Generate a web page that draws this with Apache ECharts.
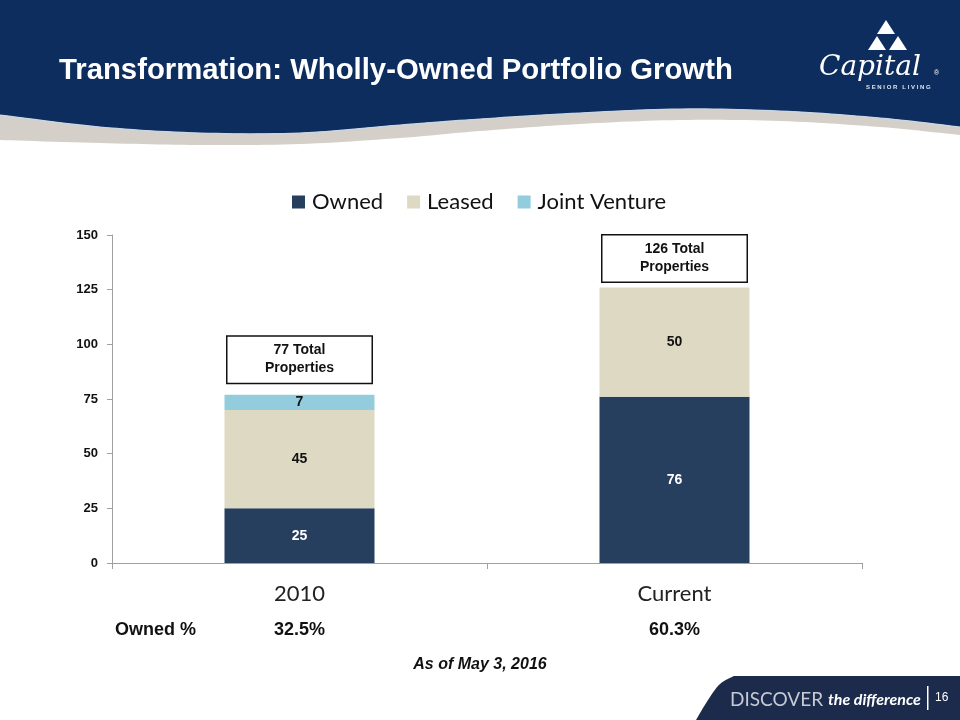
<!DOCTYPE html>
<html><head><meta charset="utf-8">
<script src="https://cdn.jsdelivr.net/npm/echarts@6/dist/echarts.min.js"></script>
<style>html,body{margin:0;padding:0;background:#fff}#c{width:960px;height:720px}</style>
</head><body><div id="c"></div>
<script>
var categories = ['2010', 'Current'];
var owned = [25, 76];
var leased = [45, 50];
var jointVenture = [7, 0];
var yTicks = [0, 25, 50, 75, 100, 125, 150];
var totals = categories.map(function (c, i) { return owned[i] + leased[i] + jointVenture[i]; });
var ownedPct = categories.map(function (c, i) { return (owned[i] / totals[i] * 100).toFixed(1) + '%'; });

// decorative header swoosh outline (not data)
function smoothLine(pts, n) {
  var out = [];
  for (var i = 0; i < pts.length - 1; i++) {
    var p0 = pts[Math.max(i - 1, 0)], p1 = pts[i], p2 = pts[i + 1], p3 = pts[Math.min(i + 2, pts.length - 1)];
    for (var k = 0; k < n; k++) {
      var t = k / n, t2 = t * t, t3 = t2 * t;
      out.push([0, 1].map(function (d) {
        return 0.5 * ((2 * p1[d]) + (-p0[d] + p2[d]) * t + (2 * p0[d] - 5 * p1[d] + 4 * p2[d] - p3[d]) * t2 + (-p0[d] + 3 * p1[d] - 3 * p2[d] + p3[d]) * t3);
      }));
    }
  }
  out.push(pts[pts.length - 1]);
  return out;
}
var navyEdge = smoothLine([[0,115],[100,127],[200,133],[300,133],[400,125],[480,119],[580,113],[680,109],[780,111],[880,118],[960,127]], 12);
var grayEdge = smoothLine([[0,140],[100,143],[200,145],[300,144],[400,138],[480,131],[580,124],[680,120],[780,121],[880,127],[960,135]], 12);
var navyPts = [[0,0],[960,0]].concat(navyEdge.slice().reverse());
var grayPts = navyEdge.concat(grayEdge.slice().reverse());
var footerPts = smoothLine([[696,720],[708,700],[720,684],[734,676]], 8).concat([[960,676],[960,720]]);

var chart = echarts.init(document.getElementById('c'), null, { renderer: 'canvas' });
var segLabel = function (color) {
  return { show: true, position: 'inside', color: color, fontFamily: 'Liberation Sans, Arial', fontWeight: 'bold', fontSize: 14,
    formatter: function (p) { return p.value ? p.value : ''; } };
};
var option = {
  backgroundColor: '#fff',
  animation: false,
  legend: {
    top: 186, left: 287,
    itemWidth: 13, itemHeight: 13, itemGap: 24,
    icon: 'rect',
    textStyle: { fontFamily: 'Lato, Open Sans, sans-serif', fontSize: 22, color: '#111', padding: [0, 0, 0, 2] },
    data: ['Owned', 'Leased', 'Joint Venture']
  },
  grid: { left: 112, right: 98, top: 235, bottom: 157, containLabel: false },
  xAxis: [{
    type: 'category', data: categories,
    axisLine: { lineStyle: { color: '#a0a0a0', width: 1 } },
    axisTick: { show: true, alignWithLabel: false, length: 6, lineStyle: { color: '#a0a0a0' } },
    axisLabel: { margin: 20, fontFamily: 'Lato, Open Sans, sans-serif', fontSize: 22, color: '#222' }
  }, {
    type: 'category', data: ownedPct, position: 'bottom', offset: 0,
    axisLine: { show: false }, axisTick: { show: false },
    axisLabel: { margin: 58, fontFamily: 'Liberation Sans, Arial', fontWeight: 'bold', fontSize: 18, color: '#111' }
  }],
  yAxis: {
    type: 'value', min: yTicks[0], max: yTicks[yTicks.length - 1], interval: 25,
    axisLine: { show: true, lineStyle: { color: '#a0a0a0' } },
    axisTick: { show: true, length: 5, lineStyle: { color: '#a0a0a0' } },
    splitLine: { show: false },
    axisLabel: { margin: 14, fontFamily: 'Liberation Sans, Arial', fontWeight: 'bold', fontSize: 13, color: '#111' }
  },
  series: [
    { name: 'Owned', type: 'bar', stack: 'a', data: owned, barWidth: '40%', itemStyle: { color: '#263f5f' }, label: segLabel('#fff') },
    { name: 'Leased', type: 'bar', stack: 'a', data: leased, itemStyle: { color: '#ddd9c3' }, label: segLabel('#111') },
    { name: 'Joint Venture', type: 'bar', stack: 'a', data: jointVenture, itemStyle: { color: '#93cddd' }, label: segLabel('#111') },
    { name: 'Total', type: 'bar', barGap: '-100%', barWidth: '40%', z: 5, silent: true,
      data: totals.map(function (v, i) { return { value: v, label: { distance: i === 0 ? 12 : 6 } }; }),
      itemStyle: { color: 'rgba(0,0,0,0)' },
      label: { show: true, position: 'top',
        formatter: function (p) { return p.value + ' Total\nProperties'; },
        backgroundColor: '#fff', borderColor: '#111', borderWidth: 1.5,
        width: 144, padding: [5, 0, 5, 0], lineHeight: 18,
        fontFamily: 'Liberation Sans, Arial', fontWeight: 'bold', fontSize: 14, color: '#111' } }
  ],
  graphic: [
    { type: 'polygon', z: 0, shape: { points: navyPts }, style: { fill: '#0c2d5e' } },
    { type: 'polygon', z: 0, shape: { points: grayPts }, style: { fill: '#d4d0c9' } },
    { type: 'polyline', z: 0, shape: { points: navyEdge }, style: { stroke: '#c9d6e6', lineWidth: 1.2, fill: null } },
    { type: 'text', left: 59, top: 56, style: { text: 'Transformation: Wholly-Owned Portfolio Growth', fill: '#fff', font: 'bold 29.3px "Liberation Sans", Arial' } },
    { type: 'polygon', shape: { points: [[886, 20], [877, 34], [895, 34]] }, style: { fill: '#fff' } },
    { type: 'polygon', shape: { points: [[877, 36], [868, 50], [886, 50]] }, style: { fill: '#fff' } },
    { type: 'polygon', shape: { points: [[898, 36], [889, 50], [907, 50]] }, style: { fill: '#fff' } },
    { type: 'text', left: 819, top: 54, style: { text: 'Capital', fill: '#fff', font: 'italic 28px "DejaVu Serif", serif' } },
    { type: 'text', left: 934, top: 70, style: { text: '®', fill: '#fff', font: '7px "Liberation Sans", Arial' } },
    { type: 'text', left: 866, top: 84, style: { text: 'S E N I O R   L I V I N G', fill: '#dfe4ec', font: 'bold 6px "Liberation Sans", Arial' } },
    { type: 'text', left: 115, top: 621, style: { text: 'Owned %', fill: '#111', font: 'bold 18px "Liberation Sans", Arial' } },
    { type: 'text', left: 'center', top: 657, style: { text: 'As of May 3, 2016', fill: '#111', font: 'italic bold 16px "Liberation Sans", Arial' } },
    { type: 'polygon', shape: { points: footerPts }, style: { fill: '#1c2b4b' } },
    { type: 'text', left: 730, top: 690, style: { text: 'DISCOVER', fill: '#c5cad3', font: '19px "Lato", sans-serif' } },
    { type: 'text', left: 828, top: 692, style: { text: 'the difference', fill: '#fff', font: 'italic bold 16px "Lato", sans-serif' } },
    { type: 'rect', shape: { x: 927, y: 686, width: 1.5, height: 24 }, style: { fill: '#fff' } },
    { type: 'text', left: 935, top: 692, style: { text: '16', fill: '#fff', font: '12px "Liberation Sans", Arial' } }
  ]
};
chart.setOption(option);
</script></body></html>
